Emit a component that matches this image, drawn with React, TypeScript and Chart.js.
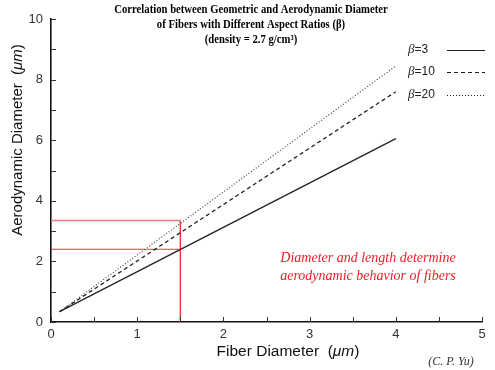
import React, { useEffect, useRef } from "react";
import { Chart, registerables } from "chart.js";

Chart.register(...registerables);

// ---- data ----
const fiberDiameter = [0.1, 4];
const beta3 = [0.34, 6.05];
const beta10 = [0.34, 7.6];
const beta20 = [0.34, 8.45];
const legendLabels = ["3", "10", "20"];
const markX = [0, 1.5];
const markLowY = 2.4;
const markHighY = 3.35;
const xTickValues = [0, 0.5, 1, 1.5, 2, 2.5, 3, 3.5, 4, 4.5, 5];
const yTickValues = [0, 1, 2, 3, 4, 5, 6, 7, 8, 9, 10];
const titleLines = [
  "Correlation between Geometric and Aerodynamic Diameter",
  "of Fibers with Different Aspect Ratios (\u03b2)",
  "(density = 2.7 g/cm\u00b3)",
];
const noteLines = ["Diameter and length determine", "aerodynamic behavior of fibers"];
const credit = "(C. P. Yu)";

const SANS = '"Liberation Sans", Arial, sans-serif';
const SERIF = '"Liberation Serif", "Times New Roman", serif';

type Run = { text: string; font: string };

function drawRuns(ctx: CanvasRenderingContext2D, runs: Run[], x: number, y: number, align: "left" | "center") {
  let total = 0;
  for (const r of runs) {
    ctx.font = r.font;
    total += ctx.measureText(r.text).width;
  }
  let cx = align === "center" ? x - total / 2 : x;
  ctx.textAlign = "left";
  for (const r of runs) {
    ctx.font = r.font;
    ctx.fillText(r.text, cx, y);
    cx += ctx.measureText(r.text).width;
  }
}

const overlay = {
  id: "overlay",
  afterDraw(chart: any) {
    const ctx: CanvasRenderingContext2D = chart.ctx;
    const xs = chart.scales.x;
    const ys = chart.scales.y;
    const area = chart.chartArea;
    ctx.save();
    // inward ticks
    ctx.strokeStyle = "#333";
    ctx.lineWidth = 1;
    ctx.beginPath();
    for (const v of xTickValues) {
      const px = Math.round(xs.getPixelForValue(v)) + 0.5;
      ctx.moveTo(px, area.bottom);
      ctx.lineTo(px, area.bottom - 5);
    }
    for (const v of yTickValues) {
      const py = Math.round(ys.getPixelForValue(v)) + 0.5;
      ctx.moveTo(area.left, py);
      ctx.lineTo(area.left + 5, py);
    }
    ctx.stroke();

    // title (slightly condensed, like the original)
    ctx.fillStyle = "#000";
    ctx.textBaseline = "middle";
    ctx.textAlign = "center";
    ctx.font = `bold 12.5px ${SERIF}`;
    const tys = [10, 25, 40];
    titleLines.forEach((t, i) => {
      ctx.save();
      ctx.translate(251, tys[i]);
      ctx.scale(0.855, 1);
      ctx.fillText(t, 0, 0);
      ctx.restore();
    });

    // legend
    const lys = [50, 72, 95];
    const styles: number[][] = [[], [4, 3], [1, 2]];
    legendLabels.forEach((lab, i) => {
      ctx.fillStyle = "#222";
      ctx.textBaseline = "middle";
      drawRuns(
        ctx,
        [
          { text: "\u03b2", font: `italic 13px ${SERIF}` },
          { text: "=" + lab, font: `12px ${SANS}` },
        ],
        408,
        lys[i],
        "left"
      );
      ctx.strokeStyle = "#222";
      ctx.lineWidth = 1.2;
      ctx.setLineDash(styles[i]);
      ctx.beginPath();
      ctx.moveTo(447, lys[i] + 0.5);
      ctx.lineTo(485, lys[i] + 0.5);
      ctx.stroke();
      ctx.setLineDash([]);
    });

    // red note
    ctx.fillStyle = "#ee1c24";
    ctx.textAlign = "center";
    ctx.font = `italic 14px ${SERIF}`;
    ctx.fillText(noteLines[0], 368, 258);
    ctx.fillText(noteLines[1], 368, 276);

    // credit
    ctx.fillStyle = "#333";
    ctx.font = `italic 12px ${SERIF}`;
    ctx.fillText(credit, 451, 362);

    // x axis title
    ctx.fillStyle = "#111";
    drawRuns(
      ctx,
      [
        { text: "Fiber Diameter  (", font: `15.5px ${SANS}` },
        { text: "\u03bcm", font: `italic 15.5px ${SANS}` },
        { text: ")", font: `15.5px ${SANS}` },
      ],
      288,
      352,
      "center"
    );
    // y axis title
    ctx.translate(18, 140);
    ctx.rotate(-Math.PI / 2);
    drawRuns(
      ctx,
      [
        { text: "Aerodynamic Diameter  (", font: `15px ${SANS}` },
        { text: "\u03bcm", font: `italic 15px ${SANS}` },
        { text: ")", font: `15px ${SANS}` },
      ],
      0,
      0,
      "center"
    );
    ctx.restore();
  },
};

function pts(xs: number[], ys: number[]) {
  return xs.map((x, i) => ({ x, y: ys[i] }));
}

export default function App() {
  const ref = useRef<HTMLCanvasElement | null>(null);
  useEffect(() => {
    if (!ref.current) return;
    const line = (data: any[], color: string, width: number, dash: number[] = []) => ({
      type: "line" as const,
      data,
      borderColor: color,
      borderWidth: width,
      borderDash: dash,
      pointRadius: 0,
      fill: false,
      tension: 0,
    });
    const chart = new Chart(ref.current, {
      type: "scatter",
      data: {
        datasets: [
          line(pts(fiberDiameter, beta3), "#222", 1.3),
          line(pts(fiberDiameter, beta10), "#222", 1.3, [4, 3]),
          line(pts(fiberDiameter, beta20), "#444", 1.2, [1, 2]),
          line(pts(markX, [markLowY, markLowY]), "#e23a3a", 1),
          line(pts(markX, [markHighY, markHighY]), "#f07a7a", 1.5),
          line(pts([1.5, 1.5], [0, markHighY]), "#ee2a2a", 1.3),
        ],
      },
      options: {
        responsive: false,
        animation: false,
        layout: { padding: { left: 0, right: 13, top: 19, bottom: 0 } },
        plugins: { legend: { display: false }, tooltip: { enabled: false }, title: { display: false } },
        scales: {
          x: {
            type: "linear",
            min: 0,
            max: 5,
            grid: { display: false, drawTicks: false, tickLength: 0 },
            border: { display: true, color: "#111", width: 1.6 },
            ticks: {
              stepSize: 0.5,
              autoSkip: false,
              maxRotation: 0,
              padding: 5,
              color: "#333",
              font: { family: SANS, size: 13 },
              callback: (v: any) => (Number(v) % 1 === 0 ? String(v) : ""),
            },
            afterFit: (s: any) => {
              s.height = 48;
            },
          },
          y: {
            type: "linear",
            min: 0,
            max: 10,
            grid: { display: false, drawTicks: false, tickLength: 0 },
            border: { display: true, color: "#111", width: 1.6 },
            ticks: {
              stepSize: 1,
              autoSkip: false,
              padding: 8,
              color: "#333",
              font: { family: SANS, size: 13 },
              callback: (v: any) => (Number(v) % 2 === 0 ? String(v) : ""),
            },
            afterFit: (s: any) => {
              s.width = 51;
            },
          },
        },
      },
      plugins: [overlay],
    });
    return () => chart.destroy();
  }, []);
  return (
    <div style={{ position: "absolute", left: 0, top: 0, width: 495, height: 370, background: "#fff" }}>
      <canvas ref={ref} width={495} height={370} style={{ display: "block" }} />
    </div>
  );
}
